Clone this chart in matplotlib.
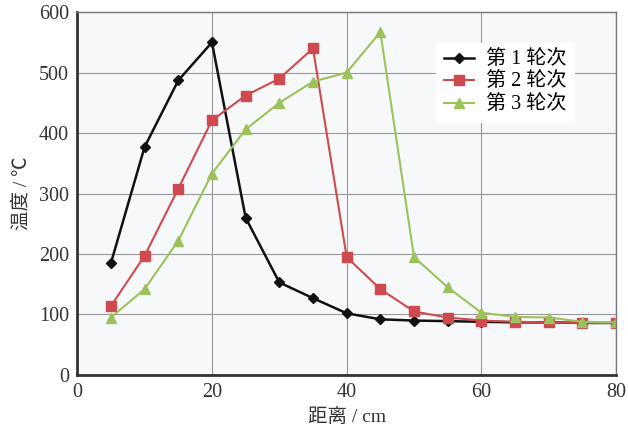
import matplotlib.pyplot as plt

plt.rcParams['font.family'] = ['Liberation Serif', 'Noto Sans CJK SC']

x = [5, 10, 15, 20, 25, 30, 35, 40, 45, 50, 55, 60, 65, 70, 75, 80]
round1 = [185, 377, 487, 550, 260, 153, 127, 102, 92, 90, 89, 88, 87, 87, 86, 86]
round2 = [114, 197, 308, 421, 462, 490, 540, 195, 142, 105, 95, 90, 88, 87, 86, 86]
round3 = [95, 142, 222, 333, 406, 450, 485, 500, 567, 195, 145, 103, 96, 95, 88, 87]
labels = ["第 1 轮次", "第 2 轮次", "第 3 轮次"]

fig = plt.figure(figsize=(6.28, 4.32), dpi=100)
fig.patch.set_facecolor("white")
ax = fig.add_axes([0.123, 0.132, 0.858, 0.840])
ax.set_facecolor("#f7f8fa")

ax.plot(x, round1, color="#111111", marker="D", markersize=5, lw=1.8, label=labels[0])
ax.plot(x, round2, color="#cf4a4f", marker="s", markersize=7, lw=1.5, label=labels[1])
ax.plot(x, round3, color="#9cc25c", marker="^", markersize=7, lw=1.5, label=labels[2])

ax.set_xlim(0, 80)
ax.set_ylim(0, 600)
ax.set_xticks([0, 20, 40, 60, 80])
ax.set_yticks(range(0, 601, 100))
ax.grid(True, color="#9a9a9a", lw=0.8)
ax.set_axisbelow(True)
ax.tick_params(labelsize=14.5, length=0, pad=6, colors="#333333")
for s in ["left", "bottom"]:
    ax.spines[s].set_linewidth(2)
    ax.spines[s].set_color("#333333")
for s in ["top", "right"]:
    ax.spines[s].set_linewidth(1)
    ax.spines[s].set_color("#777777")

ax.set_xlabel("距离 / cm", fontsize=14, color="#333333", labelpad=4)
ax.set_ylabel("温度 / ℃", fontsize=14, color="#333333", labelpad=6)

leg = ax.legend(loc="upper right", bbox_to_anchor=(0.942, 0.942), fontsize=14.5,
                frameon=True, facecolor="white", edgecolor="none", framealpha=1,
                handlelength=1.5, handletextpad=0.6, labelspacing=0.15,
                borderpad=0.4, fancybox=False)

fig.savefig("out.png", dpi=100)
